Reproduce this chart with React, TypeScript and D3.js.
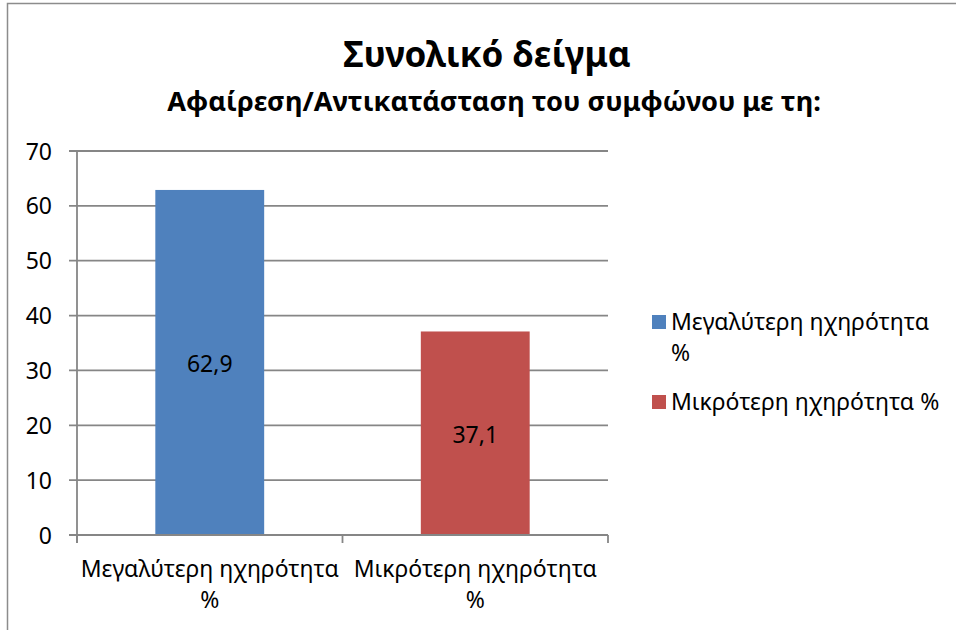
import React from "react";
import * as d3 from "d3";

const categories = ["Μεγαλύτερη ηχηρότητα %", "Μικρότερη ηχηρότητα %"];
const categoryLines = [["Μεγαλύτερη ηχηρότητα", "%"], ["Μικρότερη ηχηρότητα", "%"]];
const values = [62.9, 37.1];
const valueLabels = ["62,9", "37,1"];
const colors = ["#4F81BD", "#C0504D"];
const yTicks = [0, 10, 20, 30, 40, 50, 60, 70];
const legendLines = [["Μεγαλύτερη ηχηρότητα", "%"], ["Μικρότερη ηχηρότητα %"]];
const title = "Συνολικό δείγμα";
const subtitle = "Αφαίρεση/Αντικατάσταση του συμφώνου με τη:";

const W = 956, H = 630;
const left = 77, right = 608, top = 151, bottom = 535;
const font = "'Noto Sans', 'Open Sans', sans-serif";
const fs = 23;

export default function App() {
  const y = d3.scaleLinear().domain([0, 70]).range([bottom, top]);
  const x = d3.scaleBand().domain(categories).range([left, right]).paddingInner(0.59).paddingOuter(0.295);
  const band = (right - left) / categories.length;
  const grid = "#868686";
  return (
    <div style={{ position: "fixed", left: 0, top: 0 }}>
      <svg width={W} height={H} style={{ display: "block", background: "#fff" }}>
        <rect x={7.5} y={3.5} width={W + 10} height={H + 10} fill="#fff" stroke="#8c8c8c" strokeWidth={1.5} />
        <text x={487} y={67} textAnchor="middle" fontFamily={font} fontWeight="bold" fontSize={35} fill="#000">{title}</text>
        <text x={494} y={111} textAnchor="middle" fontFamily={font} fontWeight="bold" fontSize={27.2} fill="#000">{subtitle}</text>
        {yTicks.map((t) => (
          <g key={t}>
            <line x1={69} x2={right} y1={y(t)} y2={y(t)} stroke={grid} strokeWidth={1.8} />
            <text x={52} y={y(t) + 8.5} textAnchor="end" fontFamily={font} fontSize={fs} fill="#000">{t}</text>
          </g>
        ))}
        <line x1={left} x2={left} y1={top} y2={bottom + 8} stroke={grid} strokeWidth={1.8} />
        {d3.range(categories.length + 1).map((i) => (
          <line key={i} x1={left + i * band} x2={left + i * band} y1={bottom} y2={bottom + 8} stroke={grid} strokeWidth={1.8} />
        ))}
        {categories.map((c, i) => (
          <g key={c}>
            <rect x={x(c)} y={y(values[i])} width={x.bandwidth()} height={bottom - y(values[i])} fill={colors[i]} />
            <text x={(x(c) as number) + x.bandwidth() / 2} y={(y(values[i]) + bottom) / 2 + 9.5} textAnchor="middle" fontFamily={font} fontSize={fs} fill="#000">{valueLabels[i]}</text>
            {categoryLines[i].map((l, j) => (
              <text key={j} x={left + band * (i + 0.5)} y={577 + j * 31} textAnchor="middle" fontFamily={font} fontSize={fs} fill="#000">{l}</text>
            ))}
          </g>
        ))}
        <line x1={left} x2={right} y1={bottom} y2={bottom} stroke={grid} strokeWidth={1.8} />
        {legendLines.map((lines, i) => (
          <g key={i}>
            <rect x={652} y={[315, 395][i]} width={14} height={14} fill={colors[i]} />
            {lines.map((l, j) => (
              <text key={j} x={671} y={[330, 410][i] + j * 31} fontFamily={font} fontSize={fs} fill="#000">{l}</text>
            ))}
          </g>
        ))}
      </svg>
    </div>
  );
}
